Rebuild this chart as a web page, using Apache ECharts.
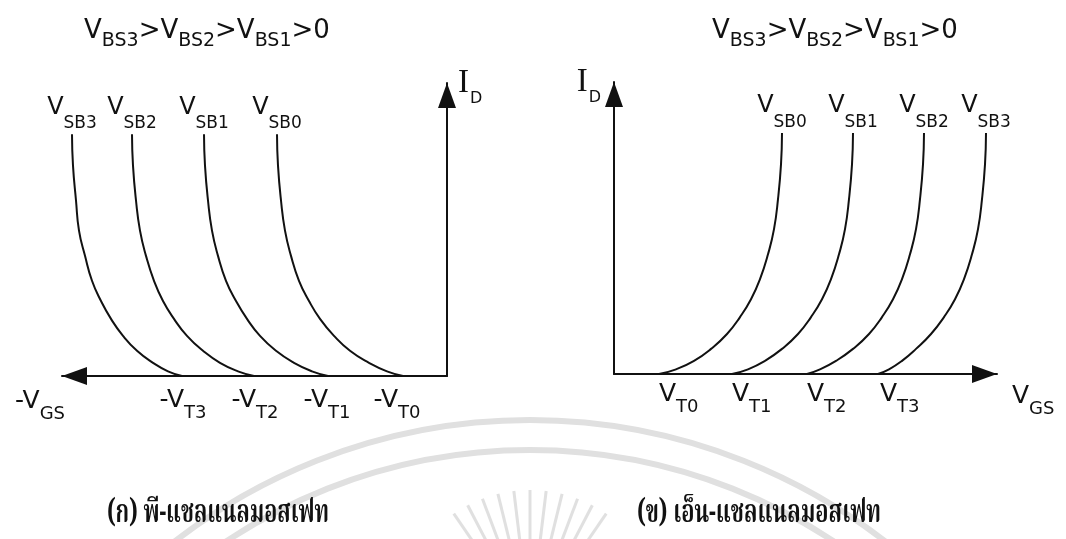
<!DOCTYPE html>
<html>
<head>
<meta charset="utf-8">
<script src="https://cdn.jsdelivr.net/npm/echarts@6/dist/echarts.min.js"></script>
<style>
  html, body { margin: 0; padding: 0; background: #ffffff; }
  #chart { width: 1066px; height: 539px; }
</style>
</head>
<body>
<div id="chart"></div>
<script>
// Drain current levels sampled along every curve (0 = V_GS axis, 100 = arrow tip)
const currentLevels = [82.5, 71.8, 59.9, 49.6, 41.0, 32.5, 25.6, 19.5, 13.7, 8.6, 4.5, 1.6, 0];

// p-channel MOSFET: V_GS at each current level, one array per source-body bias
const pVgsSB0 = [-1.70, -1.69, -1.66, -1.62, -1.56, -1.48, -1.38, -1.27, -1.13, -0.97, -0.78, -0.60, -0.44];
const pVgsSB1 = [-2.43, -2.42, -2.39, -2.35, -2.29, -2.21, -2.11, -2.00, -1.87, -1.71, -1.53, -1.35, -1.19];
const pVgsSB2 = [-3.15, -3.14, -3.11, -3.07, -3.01, -2.93, -2.84, -2.73, -2.60, -2.44, -2.27, -2.09, -1.93];
const pVgsSB3 = [-3.75, -3.74, -3.71, -3.68, -3.62, -3.55, -3.46, -3.36, -3.24, -3.10, -2.94, -2.79, -2.65];
const pThresholds = [-0.50, -1.20, -1.92, -2.64];

// n-channel MOSFET
const nVgsSB0 = [1.68, 1.67, 1.64, 1.60, 1.54, 1.46, 1.37, 1.26, 1.13, 0.97, 0.80, 0.62, 0.45];
const nVgsSB1 = [2.39, 2.38, 2.35, 2.31, 2.25, 2.17, 2.08, 1.97, 1.84, 1.68, 1.51, 1.34, 1.18];
const nVgsSB2 = [3.10, 3.09, 3.06, 3.02, 2.96, 2.88, 2.79, 2.68, 2.55, 2.39, 2.22, 2.06, 1.93];
const nVgsSB3 = [3.72, 3.71, 3.68, 3.64, 3.58, 3.50, 3.41, 3.30, 3.17, 3.02, 2.88, 2.75, 2.64];
const nThresholds = [0.45, 1.18, 1.93, 2.66];

// Labels
const curveSubs = ['SB0', 'SB1', 'SB2', 'SB3'];
const thresholdSubs = ['T0', 'T1', 'T2', 'T3'];
const biasOrder = ['BS3', 'BS2', 'BS1'];
const pCaption = '(ก) พี-แชลแนลมอสเฟท';
const nCaption = '(ข) เอ็น-แชลแนลมอสเฟท';

const FONT = "'DejaVu Sans',sans-serif";
const THAI = "'Noto Serif Thai','Noto Sans Thai','Loma','Garuda','Norasi',serif";
const INK = '#111111';

// Rich-text styles: a main letter and a dropped subscript
function subRich(vSize, sSize, drop) {
  return {
    v: { fontFamily: FONT, fontSize: vSize, lineHeight: vSize, fontWeight: 'normal', color: INK, verticalAlign: 'top' },
    s: { fontFamily: FONT, fontSize: sSize, lineHeight: sSize, fontWeight: 'normal', color: INK, verticalAlign: 'top', padding: [drop, 0, 0, 0] }
  };
}
const curveRich = subRich(24, 17, 20);
const tickRich = subRich(25, 18, 16);
const nameRich = subRich(25, 18, 16);
const titleRich = subRich(26, 19, 14);
const idRich = {
  i: { fontFamily: "'Liberation Serif','DejaVu Serif',serif", fontSize: 33, lineHeight: 33, color: INK, verticalAlign: 'top' },
  d: { fontFamily: FONT, fontSize: 16, lineHeight: 16, color: INK, verticalAlign: 'top', padding: [24, 0, 0, 1] }
};

const biasText = biasOrder.map(b => '{v|V}{s|' + b + '}').join('{v|>}') + '{v|>0}';

function lookup(list, val) {
  let best = 0;
  list.forEach((t, i) => { if (Math.abs(t - val) < Math.abs(list[best] - val)) best = i; });
  return best;
}

function curveSeries(vgs, axisIdx, sub) {
  const data = vgs.map((v, i) => [v, currentLevels[i]]);
  data[0] = {
    value: data[0],
    label: { show: true, position: 'top', distance: 14, formatter: '{v|V}{s|' + sub + '}', rich: curveRich }
  };
  return {
    type: 'line', xAxisIndex: axisIdx, yAxisIndex: axisIdx, data: data,
    smooth: 0.5, showSymbol: true, symbol: 'circle', symbolSize: 2,
    itemStyle: { color: 'rgba(0,0,0,0)' },
    lineStyle: { color: INK, width: 2 },
    label: { show: false }, clip: false, silent: true, z: 3
  };
}

function axisLineStyle(symbol, offset) {
  return {
    show: true, onZero: false,
    lineStyle: { color: INK, width: 2 },
    symbol: symbol, symbolSize: [18, 25], symbolOffset: offset
  };
}

// Captions are squeezed horizontally to the width of a condensed Thai face
const measureCtx = document.createElement('canvas').getContext('2d');
function captionScale(txt, targetWidth) {
  measureCtx.font = 'bold 32px ' + THAI;
  return targetWidth / measureCtx.measureText(txt).width;
}

// Faint emblem drawn behind the plots, plus the two captions
const decor = [];
[580, 550].forEach(r => decor.push({
  type: 'circle', z: -10, silent: true,
  shape: { cx: 530, cy: 1000, r: r },
  style: { fill: null, stroke: '#e0e0e0', lineWidth: 6 }
}));
for (let k = -5; k <= 5; k++) {
  const a = k * 0.12;
  decor.push({
    type: 'line', z: -10, silent: true,
    shape: { x1: 530 + 60 * Math.sin(a), y1: 625 - 60 * Math.cos(a), x2: 530 + 135 * Math.sin(a), y2: 625 - 135 * Math.cos(a) },
    style: { stroke: '#e0e0e0', lineWidth: 3 }
  });
}
[[pCaption, 107, 222], [nCaption, 637, 244]].forEach(([txt, x, w]) => decor.push({
  type: 'text', x: x, y: 501, scaleX: captionScale(txt, w), silent: true, z: 5,
  style: { text: txt, fontFamily: THAI, fontSize: 32, fontWeight: 'bold', fill: INK, verticalAlign: 'top' }
}));

const chart = echarts.init(document.getElementById('chart'), null, { renderer: 'canvas' });
chart.setOption({
  animation: false,
  backgroundColor: '#ffffff',
  title: [
    { text: biasText, left: 79, top: 13, textStyle: { fontWeight: 'normal', rich: titleRich } },
    { text: biasText, left: 707, top: 13, textStyle: { fontWeight: 'normal', rich: titleRich } }
  ],
  graphic: decor,
  grid: [
    { left: 62, top: 83, width: 385, height: 293 },
    { left: 614, top: 82, width: 383, height: 292 }
  ],
  xAxis: [
    {
      gridIndex: 0, type: 'value', min: -3.85, max: 0,
      axisLine: axisLineStyle(['triangle', 'none'], [12.5, 0]),
      axisTick: { show: false }, splitLine: { show: false },
      axisLabel: {
        customValues: pThresholds, margin: 12, align: 'center', hideOverlap: false,
        formatter: (val) => '{v|-V}{s|' + thresholdSubs[lookup(pThresholds, val)] + '}', rich: tickRich
      },
      name: '{v|-V}{s|GS}', nameLocation: 'start', nameGap: -3,
      nameTextStyle: { align: 'right', verticalAlign: 'top', padding: [13, 0, 0, 0], rich: nameRich }
    },
    {
      gridIndex: 1, type: 'value', min: 0, max: 3.83,
      axisLine: axisLineStyle(['none', 'triangle'], [0, -12.5]),
      axisTick: { show: false }, splitLine: { show: false },
      axisLabel: {
        customValues: nThresholds, margin: 8, align: 'left', hideOverlap: false,
        formatter: (val) => '{v|V}{s|' + thresholdSubs[lookup(nThresholds, val)] + '}', rich: tickRich
      },
      name: '{v|V}{s|GS}', nameLocation: 'end', nameGap: 15,
      nameTextStyle: { align: 'left', verticalAlign: 'top', padding: [10, 0, 0, 0], rich: nameRich }
    }
  ],
  yAxis: [
    {
      gridIndex: 0, type: 'value', min: 0, max: 100, position: 'right',
      axisLine: axisLineStyle(['none', 'triangle'], [0, -12.5]),
      axisTick: { show: false }, splitLine: { show: false }, axisLabel: { show: false },
      name: '{i|I}{d|D}', nameLocation: 'end', nameGap: 16,
      nameTextStyle: { align: 'left', verticalAlign: 'top', padding: [0, 0, 0, 11], rich: idRich }
    },
    {
      gridIndex: 1, type: 'value', min: 0, max: 100,
      axisLine: axisLineStyle(['none', 'triangle'], [0, -12.5]),
      axisTick: { show: false }, splitLine: { show: false }, axisLabel: { show: false },
      name: '{i|I}{d|D}', nameLocation: 'end', nameGap: 16,
      nameTextStyle: { align: 'right', verticalAlign: 'top', padding: [0, 13, 0, 0], rich: idRich }
    }
  ],
  series: [
    curveSeries(pVgsSB3, 0, curveSubs[3]),
    curveSeries(pVgsSB2, 0, curveSubs[2]),
    curveSeries(pVgsSB1, 0, curveSubs[1]),
    curveSeries(pVgsSB0, 0, curveSubs[0]),
    curveSeries(nVgsSB0, 1, curveSubs[0]),
    curveSeries(nVgsSB1, 1, curveSubs[1]),
    curveSeries(nVgsSB2, 1, curveSubs[2]),
    curveSeries(nVgsSB3, 1, curveSubs[3])
  ]
});
</script>
</body>
</html>
